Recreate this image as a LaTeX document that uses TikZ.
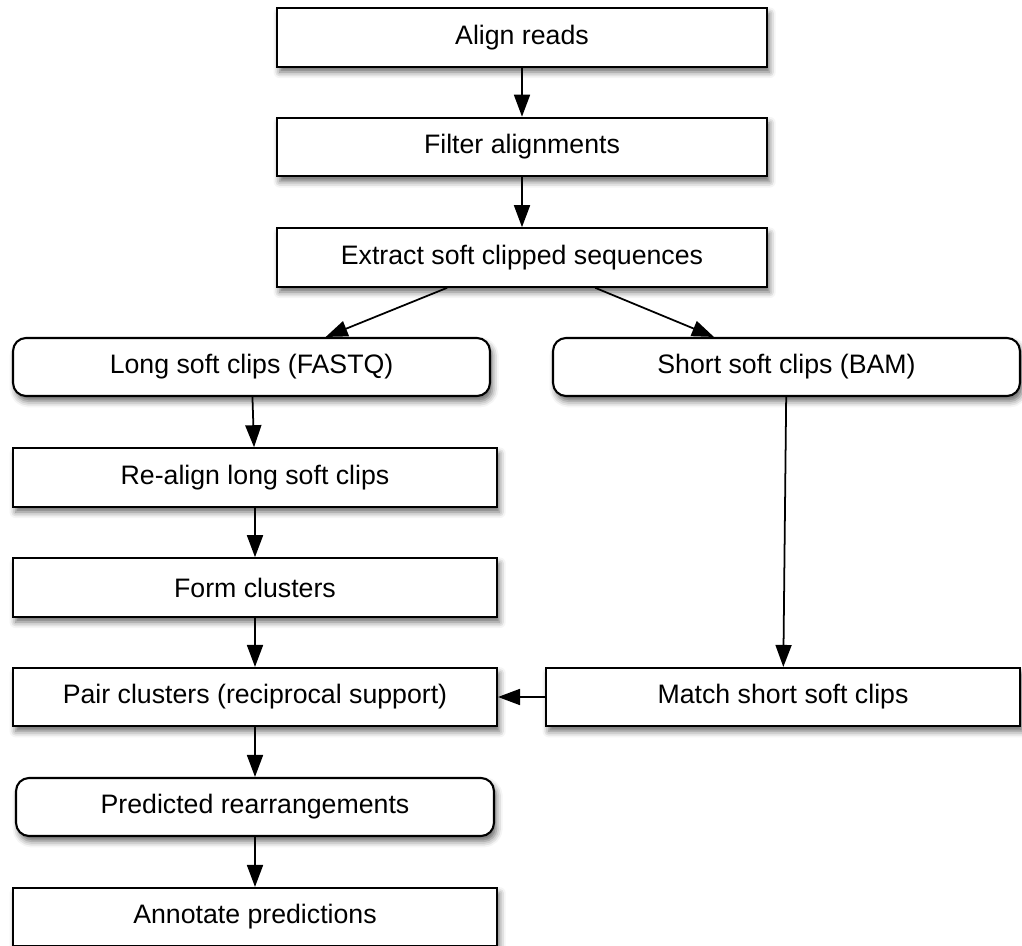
\documentclass[tikz,border=0pt]{standalone}
\usepackage{fontspec}
\setmainfont{Liberation Sans}
\usepackage{tikz}
\usetikzlibrary{arrows.meta,shadows.blur,calc}
\tikzset{every picture/.style={line width=1pt}}

\begin{document}
\begin{tikzpicture}[x=0.02cm, y=-0.02cm,
    stepbox/.style={draw, line width=1.2pt, fill=white, minimum height=1.17cm,
        font=\fontsize{15.2}{18}\selectfont,
        blur shadow={shadow xshift=1.5pt, shadow yshift=-3pt, shadow blur radius=3.5pt, shadow opacity=60}},
    databox/.style={stepbox, rounded corners=0.26cm},
    flow/.style={-{Triangle[length=0.44cm, width=0.32cm]}, line width=1pt}]
    % 画布范围
    \useasboundingbox (0,0) rectangle (1022,946);

    % 主干步骤
    \node[stepbox, minimum width=9.8cm] (align) at (522,37.5) {Align reads};
    \node[stepbox, minimum width=9.8cm] (filter) at (522,147) {Filter alignments};
    \node[stepbox, minimum width=9.8cm] (extract) at (522,257.5) {Extract soft clipped sequences};

    % 两类软剪切
    \node[databox, minimum width=9.54cm, minimum height=1.16cm] (longclip) at (251.5,367) {Long soft clips (FASTQ)};
    \node[databox, minimum width=9.34cm, minimum height=1.16cm] (shortclip) at (786.5,367) {Short soft clips (BAM)};

    % 左侧分支
    \node[stepbox, minimum width=9.68cm] (realign) at (255,477.5) {Re-align long soft clips};
    \node[stepbox, minimum width=9.68cm] (cluster) at (255,587.5) {Form clusters};
    \node[stepbox, minimum width=9.68cm, minimum height=1.16cm] (pairs) at (255,697) {Pair clusters (reciprocal support)};

    % 右侧分支
    \node[stepbox, minimum width=9.48cm, minimum height=1.16cm] (match) at (783,697) {Match short soft clips};

    % 结果
    \node[databox, minimum width=9.56cm, minimum height=1.16cm] (predict) at (255,807) {Predicted rearrangements};
    \node[stepbox, minimum width=9.68cm, minimum height=1.16cm] (annotate) at (255,917) {Annotate predictions};

    % 连线
    \draw[flow] (align) -- (filter);
    \draw[flow] (filter) -- (extract);
    \draw[flow] (extract) -- (longclip);
    \draw[flow] (extract) -- (shortclip);
    \draw[flow] (longclip) -- (realign);
    \draw[flow] (realign) -- (cluster);
    \draw[flow] (cluster) -- (pairs);
    \draw[flow] (shortclip) -- (match);
    \draw[flow] (match) -- (pairs);
    \draw[flow] (pairs) -- (predict);
    \draw[flow] (predict) -- (annotate);
\end{tikzpicture}
\end{document}
